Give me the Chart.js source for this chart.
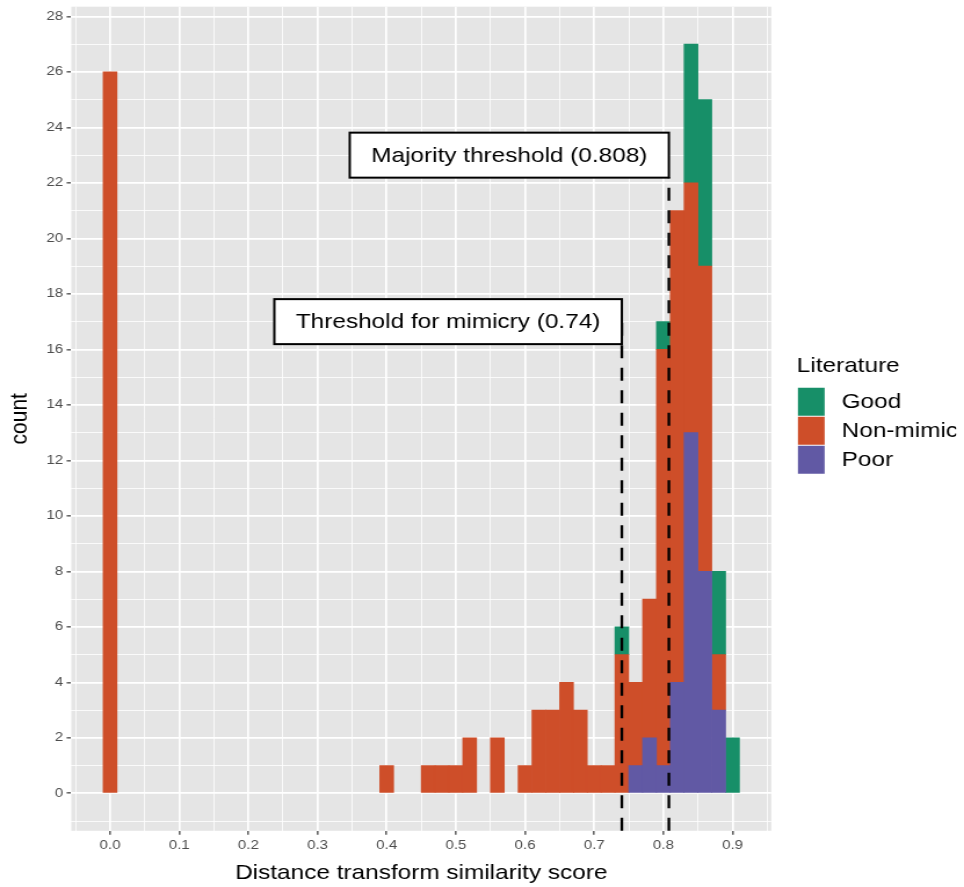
<!DOCTYPE html>
<html>
<head>
<meta charset="utf-8">
<title>Distance transform similarity score</title>
<script src="https://cdn.jsdelivr.net/npm/chart.js@4.4.1/dist/chart.umd.min.js"></script>
<style>
  html, body { margin: 0; padding: 0; background: #ffffff; overflow: hidden; }
  /* the source figure is a horizontally stretched ggplot export, so the chart is
     laid out 831px wide and then stretched to the 964px window */
  #wrap { width: 831px; height: 887px; transform: scaleX(1.16005); transform-origin: 0 0; }
</style>
</head>
<body>
<div id="wrap"><canvas id="hist"></canvas></div>
<script>
// Histogram bins (centre of each 0.02 wide bin) and counts per Literature group
const binCentres     = [0.00, 0.40, 0.46, 0.48, 0.50, 0.52, 0.56, 0.60, 0.62, 0.64, 0.66, 0.68, 0.70, 0.72, 0.74, 0.76, 0.78, 0.80, 0.82, 0.84, 0.86, 0.88, 0.90];
const goodCounts     = [0,    0,    0,    0,    0,    0,    0,    0,    0,    0,    0,    0,    0,    0,    1,    0,    0,    1,    0,    5,    6,    3,    2];
const nonMimicCounts = [26,   1,    1,    1,    1,    2,    2,    1,    3,    3,    4,    3,    1,    1,    5,    3,    5,    15,   17,   9,    11,   2,    0];
const poorCounts     = [0,    0,    0,    0,    0,    0,    0,    0,    0,    0,    0,    0,    0,    0,    0,    1,    2,    1,    4,    13,   8,    3,    0];

// Axis breaks (labelled) used for the grid and tick labels
const xBreaks = [0.0, 0.1, 0.2, 0.3, 0.4, 0.5, 0.6, 0.7, 0.8, 0.9];
const yBreaks = [0, 2, 4, 6, 8, 10, 12, 14, 16, 18, 20, 22, 24, 26, 28];

// Threshold annotations
const thresholdValues = [0.74, 0.808];
const thresholdTexts  = ['Threshold for mimicry (0.74)', 'Majority threshold (0.808)'];
const thresholdLabelY = [17, 23];
const thresholdLineTop = [16.95, 22.2];

const FONT = '"Liberation Sans", Arial, Helvetica, sans-serif';
const COLOURS = { good: '#178F68', nonMimic: '#CE4E29', poor: '#6159A4' };

// panel limits (ggplot adds 5% on each side)
const X_MIN = -0.056, X_MAX = 0.956;
const Y_MIN = -1.35, Y_MAX = 28.35;

// ggplot style: minor grid halfway between the breaks, plus the panel edges
const xGrid = [X_MIN];
for (let k = -1; k <= 19; k++) xGrid.push(k / 20);
xGrid.push(X_MAX);
const yGrid = [Y_MIN];
for (let k = -1; k <= 28; k++) yGrid.push(k);
yGrid.push(Y_MAX);

const near = (a, b) => Math.abs(a - b) < 1e-6;
const isMajorX = v => xBreaks.some(b => near(b, v));
const isMajorY = v => yBreaks.some(b => near(b, v));
const isEdgeX = v => near(v, X_MIN) || near(v, X_MAX);
const isEdgeY = v => near(v, Y_MIN) || near(v, Y_MAX);

function toPoints(counts) {
    // zero counts are left out so no empty sliver is drawn
    return binCentres.map((x, i) => ({ x: x, y: counts[i] > 0 ? counts[i] : null }));
}

function gridWidth(isMajor, isEdge) {
    return c => {
        if (!c.tick || isEdge(c.tick.value)) return 0;
        return isMajor(c.tick.value) ? 1.7 : 0.8;
    };
}

function tickMarkColour(isMajor, isEdge) {
    return c => (c.tick && !isEdge(c.tick.value) && isMajor(c.tick.value)) ? '#333333' : 'rgba(0,0,0,0)';
}

// the panel runs right to the limits, no room kept for overhanging labels
function noLabelPadding(scale) {
    scale.paddingTop = 0;
    scale.paddingBottom = 0;
    scale.paddingLeft = 0;
    scale.paddingRight = 0;
}

// Grey panel behind the grid
const panelBackground = {
    id: 'panelBackground',
    beforeDraw(chart) {
        const a = chart.chartArea;
        const ctx = chart.ctx;
        ctx.save();
        ctx.fillStyle = '#E5E5E5';
        ctx.fillRect(a.left, a.top, a.right - a.left, a.bottom - a.top);
        ctx.restore();
    }
};

// Dashed threshold lines and their boxed labels
const thresholdAnnotations = {
    id: 'thresholdAnnotations',
    afterDatasetsDraw(chart) {
        const ctx = chart.ctx;
        const xs = chart.scales.x;
        const ys = chart.scales.y;
        const bottom = chart.chartArea.bottom;
        ctx.save();
        // lines
        ctx.strokeStyle = '#000000';
        ctx.lineWidth = 2.3;
        ctx.setLineDash([13, 9.5]);
        thresholdValues.forEach((v, i) => {
            const px = xs.getPixelForValue(v);
            ctx.beginPath();
            ctx.moveTo(px, bottom);
            ctx.lineTo(px, ys.getPixelForValue(thresholdLineTop[i]));
            ctx.stroke();
        });
        // labels
        ctx.setLineDash([]);
        ctx.font = '21px ' + FONT;
        ctx.textAlign = 'center';
        ctx.textBaseline = 'middle';
        thresholdValues.forEach((v, i) => {
            const right = xs.getPixelForValue(v);
            const cy = ys.getPixelForValue(thresholdLabelY[i]);
            const w = ctx.measureText(thresholdTexts[i]).width + 37;
            const h = 45;
            ctx.fillStyle = '#ffffff';
            ctx.fillRect(right - w, cy - h / 2, w, h);
            ctx.lineWidth = 2;
            ctx.strokeStyle = '#000000';
            ctx.strokeRect(right - w, cy - h / 2, w, h);
            ctx.fillStyle = '#000000';
            ctx.fillText(thresholdTexts[i], right - w / 2, cy + 1);
        });
        ctx.restore();
    }
};

const chart = new Chart(document.getElementById('hist'), {
    type: 'bar',
    data: {
        datasets: [
            { label: 'Poor', data: toPoints(poorCounts), backgroundColor: COLOURS.poor },
            { label: 'Non-mimic', data: toPoints(nonMimicCounts), backgroundColor: COLOURS.nonMimic },
            { label: 'Good', data: toPoints(goodCounts), backgroundColor: COLOURS.good }
        ]
    },
    options: {
        responsive: true,
        maintainAspectRatio: false,
        animation: false,
        devicePixelRatio: 1,
        datasets: {
            bar: { barPercentage: 1.0, categoryPercentage: 1.0, borderWidth: 0 }
        },
        layout: { padding: { top: 6.7, left: 0, right: 6.8, bottom: 0 } },
        plugins: {
            tooltip: { enabled: false },
            legend: {
                position: 'right',
                fullSize: false,
                reverse: true,
                align: 'center',
                title: {
                    display: true,
                    text: 'Literature',
                    position: 'start',
                    color: '#000000',
                    font: { family: FONT, size: 21 },
                    padding: { top: -7, bottom: 6 }
                },
                labels: {
                    boxWidth: 23,
                    boxHeight: 28,
                    padding: 1,
                    color: '#000000',
                    font: { family: FONT, size: 21 },
                    // a thin space widens the gap between key and text as in ggplot
                    generateLabels: c => Chart.defaults.plugins.legend.labels.generateLabels(c)
                        .map(item => Object.assign(item, { text: '\u2009' + item.text }))
                }
            }
        },
        scales: {
            x: {
                type: 'linear',
                min: X_MIN,
                max: X_MAX,
                offset: false,
                stacked: true,
                afterBuildTicks: axis => { axis.ticks = xGrid.map(v => ({ value: v })); },
                afterFit: noLabelPadding,
                border: { display: false },
                grid: {
                    offset: false,
                    color: '#FFFFFF',
                    lineWidth: gridWidth(isMajorX, isEdgeX),
                    tickColor: tickMarkColour(isMajorX, isEdgeX),
                    tickWidth: 1.2,
                    tickLength: 4
                },
                ticks: {
                    autoSkip: false,
                    maxRotation: 0,
                    padding: 3,
                    color: '#4D4D4D',
                    font: { family: FONT, size: 13 },
                    callback: v => isEdgeX(v) ? null : (isMajorX(v) ? v.toFixed(1) : '')
                },
                title: {
                    display: true,
                    text: 'Distance transform similarity score',
                    color: '#000000',
                    font: { family: FONT, size: 21 },
                    padding: { top: 4, bottom: 1.4 }
                }
            },
            y: {
                type: 'linear',
                min: Y_MIN,
                max: Y_MAX,
                offset: false,
                stacked: true,
                afterBuildTicks: axis => { axis.ticks = yGrid.map(v => ({ value: v })); },
                afterFit: noLabelPadding,
                border: { display: false },
                grid: {
                    offset: false,
                    color: '#FFFFFF',
                    lineWidth: gridWidth(isMajorY, isEdgeY),
                    tickColor: tickMarkColour(isMajorY, isEdgeY),
                    tickWidth: 1.2,
                    tickLength: 4
                },
                ticks: {
                    autoSkip: false,
                    padding: 3,
                    color: '#4D4D4D',
                    font: { family: FONT, size: 13 },
                    callback: v => isEdgeY(v) ? null : (isMajorY(v) ? String(v) : '')
                },
                title: {
                    display: true,
                    text: 'count',
                    color: '#000000',
                    font: { family: FONT, size: 21 },
                    padding: { top: 4.6, bottom: 7.2 }
                }
            },
            // empty axis that only keeps the legend away from the panel
            gap: {
                type: 'linear',
                position: 'right',
                display: true,
                border: { display: false },
                grid: { display: false, drawTicks: false },
                ticks: { display: false },
                afterFit: s => { s.width = 22; }
            }
        }
    },
    plugins: [panelBackground, thresholdAnnotations]
});
</script>
</body>
</html>
